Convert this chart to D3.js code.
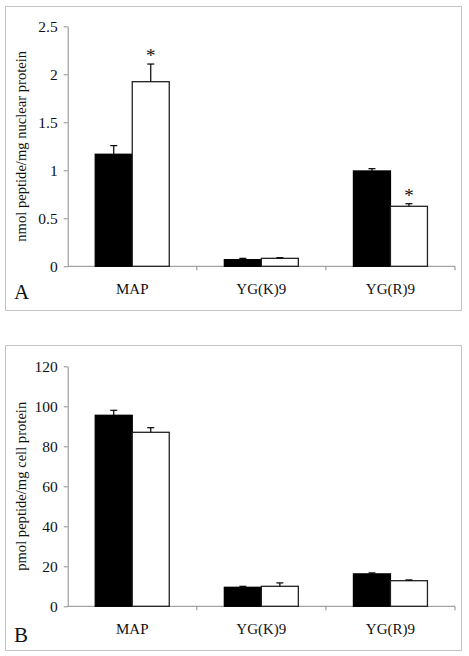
<!DOCTYPE html>
<html><head><meta charset="utf-8">
<script src="https://cdn.jsdelivr.net/npm/d3@7"></script>
<style>body{margin:0;background:#fff}svg{display:block}
svg text{font-family:"Liberation Serif","Times New Roman",serif !important;}</style>
</head><body>
<svg id="c" width="469" height="656"></svg>
<script>
const categories = ["MAP", "YG(K)9", "YG(R)9"];
const series = ["control", "treated"];
const aValues = [[1.167, 1.923], [0.069, 0.083], [0.993, 0.625]];
const aErrors = [[0.09, 0.184], [0.014, 0.007], [0.024, 0.027]];
const aStars = [[false, true], [false, false], [false, true]];
const aTicks = [0, 0.5, 1, 1.5, 2, 2.5];
const aLabel = "nmol peptide/mg nuclear protein";
const bValues = [[95.5, 87.0], [9.5, 10.0], [16.2, 12.8]];
const bErrors = [[2.5, 2.3], [0.5, 1.7], [0.5, 0.4]];
const bStars = [[false, false], [false, false], [false, false]];
const bTicks = [0, 20, 40, 60, 80, 100, 120];
const bLabel = "pmol peptide/mg cell protein";

const svg = d3.select("#c");
const FONT = "Liberation Serif";
const AXIS = "#8c8c8c";

function panel(cfg) {
  const g = svg.append("g");
  g.append("rect").attr("x", cfg.fx).attr("y", cfg.fy).attr("width", cfg.fw).attr("height", cfg.fh)
    .attr("fill", "none").attr("stroke", "#c4c4c4").attr("stroke-width", 1);
  const y = d3.scaleLinear().domain([0, cfg.max]).range([cfg.y0, cfg.y1]);
  const x = d3.scaleBand().domain(categories).range([cfg.x0, cfg.x1]).padding(0);
  const bw = 37;
  const x1 = d3.scaleBand().domain(series).range([(x.bandwidth() - 2 * bw) / 2, (x.bandwidth() + 2 * bw) / 2]);

  const ya = d3.axisLeft(y).tickValues(cfg.ticks).tickSizeOuter(0).tickSizeInner(4).tickPadding(6)
    .tickFormat(d => String(d));
  const yg = g.append("g").attr("transform", `translate(${cfg.x0},0)`).call(ya);
  yg.attr("font-family", FONT);
  yg.select(".domain").attr("stroke", AXIS);
  yg.selectAll(".tick line").attr("stroke", AXIS);
  yg.selectAll("text").attr("font-size", 15.5).attr("fill", "#111");

  g.append("line").attr("x1", cfg.x0).attr("x2", cfg.x1).attr("y1", y(0)).attr("y2", y(0)).attr("stroke", AXIS);
  g.selectAll(".xt").data(categories).enter().append("line")
    .attr("x1", d => x(d) + x.bandwidth()).attr("x2", d => x(d) + x.bandwidth())
    .attr("y1", y(0)).attr("y2", y(0) + 4).attr("stroke", AXIS);
  g.selectAll(".xl").data(categories).enter().append("text")
    .attr("x", d => x(d) + x.bandwidth() / 2).attr("y", y(0) + 28)
    .attr("text-anchor", "middle").attr("font-size", 15).attr("fill", "#111")
    .text(d => d);

  const data = [];
  categories.forEach((c, i) => series.forEach((s, j) => data.push({
    c, s, v: cfg.values[i][j], e: cfg.errors[i][j], star: cfg.stars[i][j]
  })));
  g.append("g").selectAll("rect").data(data).enter().append("rect")
    .attr("x", d => x(d.c) + x1(d.s))
    .attr("y", d => y(d.v))
    .attr("width", x1.bandwidth())
    .attr("height", d => y(0) - y(d.v))
    .attr("fill", d => d.s === "control" ? "#000" : "#fff")
    .attr("stroke", d => d.s === "control" ? "#000" : "#222")
    .attr("stroke-width", 1.3);
  const eb = g.append("g").attr("stroke", "#000").attr("stroke-width", 1.2);
  data.forEach(d => {
    const cx = x(d.c) + x1(d.s) + x1.bandwidth() / 2;
    eb.append("line").attr("x1", cx).attr("x2", cx).attr("y1", y(d.v)).attr("y2", y(d.v + d.e));
    eb.append("line").attr("x1", cx - 3.5).attr("x2", cx + 3.5).attr("y1", y(d.v + d.e)).attr("y2", y(d.v + d.e));
  });
  g.selectAll(".star").data(data.filter(d => d.star)).enter().append("text")
    .attr("x", d => x(d.c) + x1(d.s) + x1.bandwidth() / 2)
    .attr("y", d => y(d.v + d.e) - 2)
    .attr("text-anchor", "middle").attr("font-size", 19).attr("fill", "#111")
    .text("*");

  g.append("text").attr("transform", `translate(26,${(cfg.y0 + cfg.y1) / 2}) rotate(-90)`)
    .attr("text-anchor", "middle").attr("font-size", 14.6).attr("fill", "#111")
    .text(cfg.label);
  g.append("text").attr("x", 14).attr("y", cfg.letterY).attr("font-size", 21)
    .attr("fill", "#111").text(cfg.letter);
}

panel({fx: 5.5, fy: 6.5, fw: 456, fh: 304, x0: 67.7, x1: 455, y0: 266.3, y1: 26.3, max: 2.5,
  ticks: aTicks, values: aValues, errors: aErrors, stars: aStars, label: aLabel, letter: "A", letterY: 299});
panel({fx: 5.5, fy: 345.5, fw: 456, fh: 305, x0: 67.7, x1: 455, y0: 606.3, y1: 366.3, max: 120,
  ticks: bTicks, values: bValues, errors: bErrors, stars: bStars, label: bLabel, letter: "B", letterY: 642});
</script>
</body></html>
